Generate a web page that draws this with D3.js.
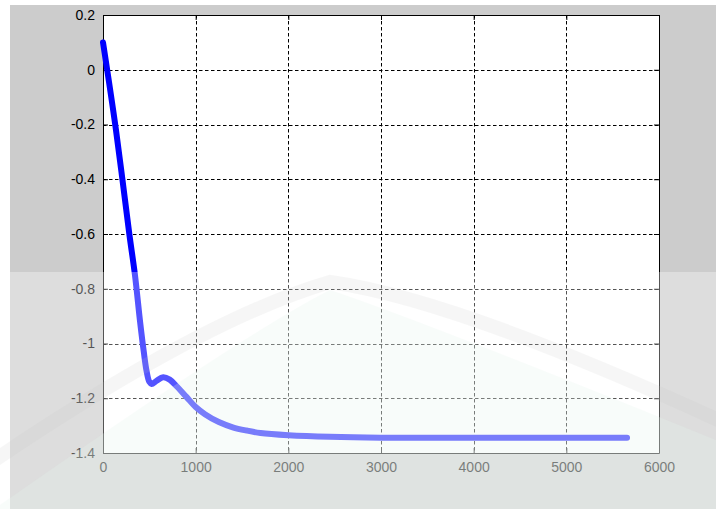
<!DOCTYPE html>
<html>
<head>
<meta charset="UTF-8">
<title>Response</title>
<script src="https://d3js.org/d3.v7.min.js"></script>
<style>
  body { margin: 0; background: #fff; }
  svg { display: block; }
  text { font-family: "Liberation Sans", Arial, sans-serif; font-size: 14px; fill: #000; }
</style>
</head>
<body>
<div id="chart"></div>
<script>
// values
var xs = [0, 140, 284, 345, 400, 440, 470, 500, 525, 575, 650, 720, 800, 900, 1000, 1100, 1250, 1400, 1550, 1700, 2000, 2450, 3000, 4000, 5000, 5655];
var ys = [0.10, -0.22, -0.6, -0.75, -0.92, -1.03, -1.10, -1.14, -1.148, -1.137, -1.123, -1.132, -1.158, -1.195, -1.232, -1.258, -1.287, -1.306, -1.318, -1.327, -1.335, -1.341, -1.344, -1.344, -1.344, -1.344];
var xTicks = [0, 1000, 2000, 3000, 4000, 5000, 6000];
var yTicks = [0.2, 0, -0.2, -0.4, -0.6, -0.8, -1, -1.2, -1.4];

var W = 716, H = 509;
var pLeft = 103, pRight = 659, pTop = 15, pBottom = 453;

var svg = d3.select("#chart").append("svg").attr("width", W).attr("height", H);

// figure background
svg.append("rect").attr("x", 10).attr("y", 5).attr("width", W - 10).attr("height", H - 5).attr("fill", "#cccccc");

var x = d3.scaleLinear().domain([0, 6000]).range([pLeft, pRight]);
var y = d3.scaleLinear().domain([-1.4, 0.2]).range([pBottom, pTop]);

svg.append("rect").attr("x", pLeft).attr("y", pTop)
  .attr("width", pRight - pLeft).attr("height", pBottom - pTop).attr("fill", "#fff");

// grid
var grid = svg.append("g").attr("stroke", "#000").attr("stroke-width", 1).attr("stroke-dasharray", "3.5,2.5");
grid.selectAll("line.v").data(xTicks.slice(1, -1)).enter().append("line")
  .attr("x1", function(d) { return Math.round(x(d)) + 0.5; })
  .attr("x2", function(d) { return Math.round(x(d)) + 0.5; })
  .attr("y1", pTop).attr("y2", pBottom);
grid.selectAll("line.h").data(yTicks.slice(1, -1)).enter().append("line")
  .attr("y1", function(d) { return Math.round(y(d)) + 0.5; })
  .attr("y2", function(d) { return Math.round(y(d)) + 0.5; })
  .attr("x1", pLeft).attr("x2", pRight);

// axes, ticks inside
var ax = d3.axisBottom(x).tickValues(xTicks).tickSize(-5).tickPadding(9).tickSizeOuter(0).tickFormat(d3.format("d"));
var axT = d3.axisTop(x).tickValues(xTicks).tickSize(-5).tickSizeOuter(0).tickFormat("");
var ay = d3.axisLeft(y).tickValues(yTicks).tickSize(-5).tickPadding(8).tickSizeOuter(0).tickFormat(function(d) { return String(+d.toFixed(1)); });
var ayR = d3.axisRight(y).tickValues(yTicks).tickSize(-5).tickSizeOuter(0).tickFormat("");

function style(g) {
  g.select(".domain").attr("stroke", "#000");
  g.selectAll(".tick line").attr("stroke", "#000");
  g.selectAll(".tick text").attr("fill", "#000").style("font-size", "14px").style("font-family", "Liberation Sans, Arial, sans-serif");
}
svg.append("g").attr("transform", "translate(0," + pBottom + ")").call(ax).call(style);
svg.append("g").attr("transform", "translate(0," + pTop + ")").call(axT).call(style);
svg.append("g").attr("transform", "translate(" + pLeft + ",0)").call(ay).call(style);
svg.append("g").attr("transform", "translate(" + pRight + ",0)").call(ayR).call(style);

// data line
var pts = xs.map(function(d, i) { return [d, ys[i]]; });
var line = d3.line().x(function(d) { return x(d[0]); }).y(function(d) { return y(d[1]); }).curve(d3.curveCatmullRom.alpha(0.5));
svg.append("path").datum(pts).attr("d", line)
  .attr("fill", "none").attr("stroke", "#0000ff").attr("stroke-width", 6)
  .attr("stroke-linejoin", "round").attr("stroke-linecap", "round");

// faint watermark over the lower part of the picture
var wm = svg.append("g");
wm.append("path")
  .attr("d", "M0,505 Q250,330 330,290 Q420,320 716,440 L716,509 L0,509 Z")
  .attr("fill", "#d8efe2").attr("opacity", 0.25);
wm.append("path")
  .attr("d", "M-20,470 Q200,320 330,282 Q460,300 740,430")
  .attr("fill", "none").attr("stroke", "#aaaaaa").attr("stroke-width", 14).attr("opacity", 0.15);
svg.append("rect").attr("x", 0).attr("y", 272).attr("width", W).attr("height", H - 272)
  .attr("fill", "#fff").attr("opacity", 0.33);
</script>
</body>
</html>
